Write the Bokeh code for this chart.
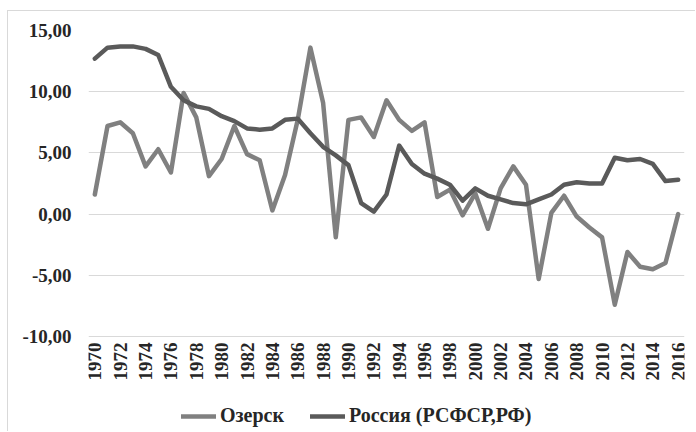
from bokeh.plotting import figure
from bokeh.models import FixedTicker, Legend, LegendItem
from bokeh.embed import file_html
from bokeh.resources import INLINE
import math

years = list(range(1970, 2017))

ozersk = [1.6, 7.2, 7.5, 6.6, 3.9, 5.3, 3.4, 9.9, 7.9, 3.1,
          4.5, 7.2, 4.9, 4.4, 0.3, 3.2, 7.7, 13.6, 9.1, -1.9,
          7.7, 7.9, 6.3, 9.3, 7.7, 6.8, 7.5, 1.4, 2.0, -0.1,
          1.7, -1.2, 2.1, 3.9, 2.4, -5.3, 0.1, 1.5, -0.2, -1.1,
          -1.9, -7.4, -3.1, -4.3, -4.5, -4.0, 0.0]

russia = [12.7, 13.6, 13.7, 13.7, 13.5, 13.0, 10.4, 9.3, 8.8, 8.6,
          8.0, 7.6, 7.0, 6.9, 7.0, 7.7, 7.8, 6.6, 5.5, 4.8,
          4.0, 0.9, 0.2, 1.6, 5.6, 4.1, 3.3, 2.9, 2.4, 1.1,
          2.1, 1.5, 1.2, 0.9, 0.8, 1.2, 1.6, 2.4, 2.6, 2.5,
          2.5, 4.6, 4.4, 4.5, 4.1, 2.7, 2.8]

x_ticks = list(range(1970, 2017, 2))
y_ticks = [-10, -5, 0, 5, 10, 15]
y_tick_labels = ["-10,00", "-5,00", "0,00", "5,00", "10,00", "15,00"]

series_names = ["Озерск", "Россия (РСФСР,РФ)"]
series_colors = ["#808080", "#5a5a5a"]

FONT = "Liberation Serif"
TEXT = "#262626"

# frame spans down to canvas bottom; value axis -10..15 occupies the upper part
y_bottom = -10 - 96 * 25 / 306

p = figure(width=688, height=421, output_backend="svg", toolbar_location=None,
           x_range=(1969.5, 2016.5), y_range=(y_bottom, 15),
           min_border_left=80, min_border_top=19, min_border_right=12,
           min_border_bottom=0,
           styles={"margin-left": "7px", "margin-top": "10px",
                   "border-left": "1px solid #d9d9d9",
                   "border-top": "1px solid #d9d9d9"})
p.outline_line_color = None
p.background_fill_color = "white"
p.border_fill_color = "white"

r1 = p.line(years, ozersk, line_color=series_colors[0], line_width=4.5,
            line_join="round", line_cap="round")
r2 = p.line(years, russia, line_color=series_colors[1], line_width=4.5,
            line_join="round", line_cap="round")

p.xgrid.grid_line_color = None
p.ygrid.grid_line_color = "#d9d9d9"
p.ygrid.grid_line_width = 1.2

p.xaxis.ticker = FixedTicker(ticks=x_ticks)
p.yaxis.ticker = FixedTicker(ticks=y_ticks)
p.yaxis.major_label_overrides = dict(zip(y_ticks, y_tick_labels))
p.xaxis.major_label_overrides = {t: str(t) for t in x_ticks}
p.xaxis.fixed_location = min(y_ticks)

for ax in (p.xaxis[0], p.yaxis[0]):
    ax.axis_line_color = None
    ax.major_tick_line_color = None
    ax.minor_tick_line_color = None
    ax.major_tick_out = 0
    ax.minor_tick_out = 0
    ax.major_label_text_font = FONT
    ax.major_label_text_font_style = "bold"
    ax.major_label_text_font_size = "19px"
    ax.major_label_text_color = TEXT

p.xaxis.major_label_orientation = math.pi / 2
p.xaxis.major_label_standoff = 6
p.yaxis.major_label_standoff = 17

legend = Legend(items=[LegendItem(label=series_names[0], renderers=[r1]),
                       LegendItem(label=series_names[1], renderers=[r2])],
                location=(93, 5), orientation="horizontal",
                glyph_width=35, glyph_height=20, label_standoff=4, spacing=26,
                padding=0, margin=0,
                label_text_font=FONT, label_text_font_style="bold",
                label_text_font_size="20px", label_text_color=TEXT,
                border_line_color=None, background_fill_alpha=0)
p.add_layout(legend, "center")

open("out.html", "w").write(file_html(p, INLINE))
